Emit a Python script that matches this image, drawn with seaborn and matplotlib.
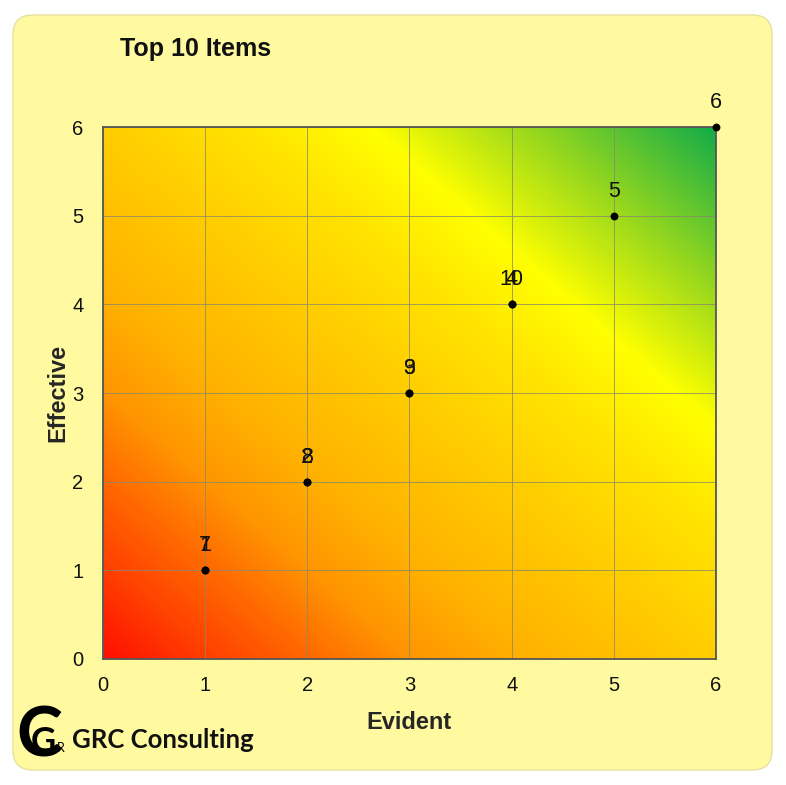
import numpy as np
import pandas as pd
import matplotlib
matplotlib.use('Agg')
import matplotlib.pyplot as plt
from matplotlib.colors import LinearSegmentedColormap
from matplotlib.patches import FancyBboxPatch
import seaborn as sns

# Item numbers and their scores
items = ['1', '2', '3', '4', '5', '6', '7', '8', '9', '10']
evident = [1, 2, 3, 4, 5, 6, 1, 2, 3, 4]
effective = [1, 2, 3, 4, 5, 6, 1, 2, 3, 4]
ticks = [0, 1, 2, 3, 4, 5, 6]

df = pd.DataFrame({'Item': items, 'Evident': evident, 'Effective': effective})

sns.set_theme(style='white')
plt.rcParams['font.family'] = ['Liberation Sans', 'DejaVu Sans']

fig = plt.figure(figsize=(7.86, 7.85), dpi=100, facecolor='white')

# rounded pale yellow panel behind everything
panel = FancyBboxPatch((13 / 786, 1 - 770 / 785), (772 - 13) / 786, (770 - 15) / 785,
                       boxstyle='round,pad=0,rounding_size=0.025',
                       transform=fig.transFigure, facecolor='#fffa9f',
                       edgecolor='#e6e0a0', linewidth=1.0, zorder=-5)
fig.patches.append(panel)

ax = fig.add_axes([103 / 786, 1 - 659 / 785, (716 - 103) / 786, (659 - 127) / 785])
ax.set_zorder(1)
ax.patch.set_alpha(0)

# diagonal red -> yellow -> green background
stops = [
    (0.0, (255, 15, 0)),
    (0.08, (255, 60, 0)),
    (0.17, (255, 105, 0)),
    (0.25, (255, 148, 0)),
    (0.35, (255, 178, 0)),
    (0.5, (255, 205, 0)),
    (0.62, (255, 228, 0)),
    (0.72, (255, 255, 0)),
    (0.85, (150, 215, 30)),
    (1.0, (20, 172, 72)),
]
cmap = LinearSegmentedColormap.from_list(
    'rag', [(p, tuple(c / 255 for c in rgb)) for p, rgb in stops])
u = np.linspace(0, 1, 400)
grad = (u[None, :] + u[:, None]) / 2
ax.imshow(grad, cmap=cmap, origin='lower', extent=[0, 6, 0, 6],
          aspect='auto', interpolation='bilinear', zorder=0)

sns.scatterplot(data=df, x='Evident', y='Effective', color='black', s=32,
                edgecolor='black', linewidth=0, ax=ax, zorder=3, clip_on=False)

for _, row in df.iterrows():
    ax.annotate(row['Item'], (row['Evident'], row['Effective']),
                xytext=(0, 10), textcoords='offset points', ha='center',
                va='bottom', fontsize=15.5, color='#111111', zorder=4,
                annotation_clip=False)

ax.set_xlim(0, 6)
ax.set_ylim(0, 6)
ax.set_xticks(ticks)
ax.set_yticks(ticks)
ax.grid(True, color='#8a8a6a', linewidth=0.7, alpha=0.8)
ax.tick_params(length=0, labelsize=14.5, colors='#111111')
ax.tick_params(axis='x', pad=12)
ax.tick_params(axis='y', pad=14)
for sp in ax.spines.values():
    sp.set_color('#555555')
    sp.set_linewidth(1.3)

ax.set_xlabel('Evident', fontsize=17, fontweight='bold', labelpad=12)
ax.set_ylabel('Effective', fontsize=17, fontweight='bold', labelpad=2)

fig.text(120 / 786, 1 - 49 / 785, 'Top 10 Items', fontsize=18, fontweight='bold',
         ha='left', va='center', color='#111111')

# logo
logo_font = ['Lato', 'DejaVu Sans']
fig.text(16 / 786, 1 - 737 / 785, 'C', fontsize=50, fontweight='bold',
         ha='left', va='center', color='black', family=logo_font)
fig.text(31 / 786, 1 - 742 / 785, 'G', fontsize=25, fontweight='bold',
         ha='left', va='center', color='black', family=logo_font)
fig.text(57 / 786, 1 - 748 / 785, 'R', fontsize=9, ha='left', va='center',
         color='black', family=logo_font)
fig.text(72 / 786, 1 - 740 / 785, 'GRC Consulting', fontsize=18.5, fontweight='bold',
         ha='left', va='center', color='#111111', family=logo_font)

plt.savefig('out.png', dpi=100, facecolor='white')
